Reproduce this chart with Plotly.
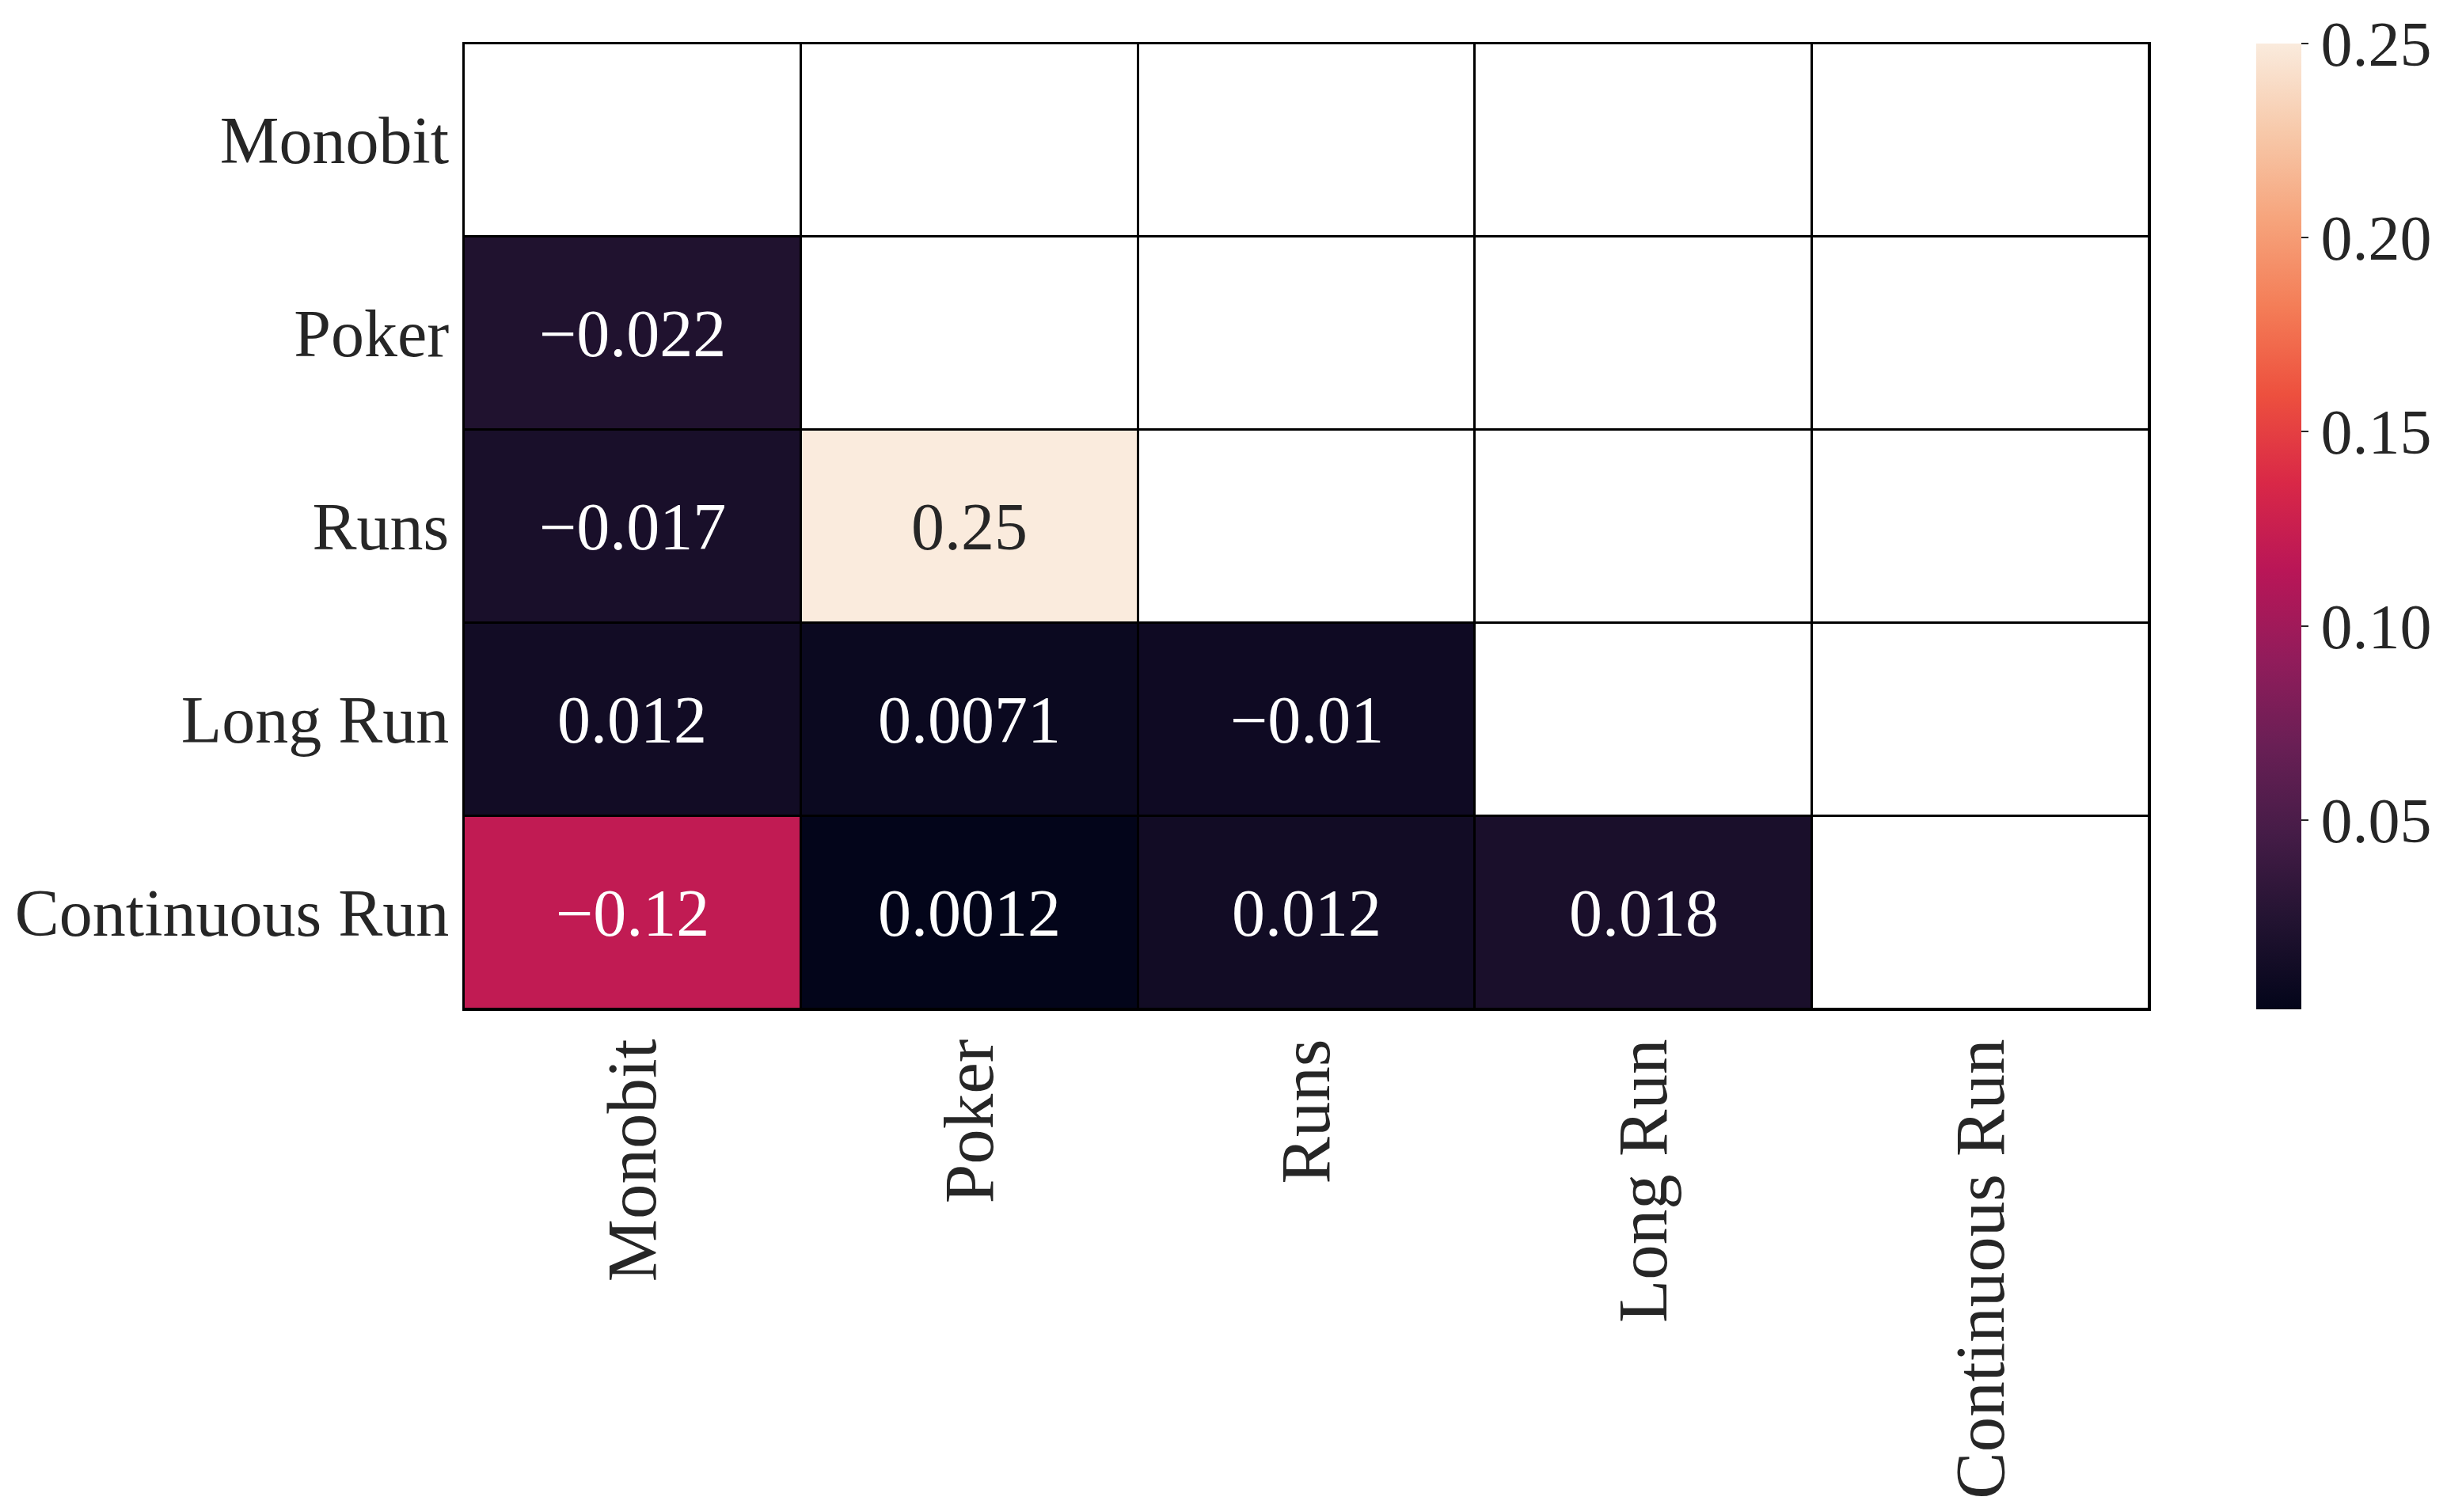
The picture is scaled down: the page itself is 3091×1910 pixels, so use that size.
import plotly.graph_objects as go

# ---- data ----
tests = ["Monobit", "Poker", "Runs", "Long Run", "Continuous Run"]
# lower-triangle correlations (row, col) ; None = masked
row_monobit = [None, None, None, None, None]
row_poker = [-0.022, None, None, None, None]
row_runs = [-0.017, 0.25, None, None, None]
row_longrun = [0.012, 0.0071, -0.01, None, None]
row_contrun = [-0.12, 0.0012, 0.012, 0.018, None]
corr = [row_monobit, row_poker, row_runs, row_longrun, row_contrun]
cbar_ticks = [0.05, 0.10, 0.15, 0.20, 0.25]

rocket = [
    [0.0, "#03051A"], [1/11, "#221331"], [2/11, "#451C47"], [3/11, "#691F55"],
    [4/11, "#921C5B"], [5/11, "#B91657"], [6/11, "#D92847"], [7/11, "#ED503E"],
    [8/11, "#F47D57"], [9/11, "#F6A47C"], [10/11, "#F7C9AA"], [1.0, "#FAEBDD"],
]

n = len(tests)
idx = list(range(n))
zabs = [[abs(v) if v is not None else None for v in r] for r in corr]
vals = [abs(v) for r in corr for v in r if v is not None]
zmin, zmax = min(vals), max(vals)
mask = [[1 if v is None else None for v in r] for r in corr]

FONT = "Liberation Serif, Times New Roman, serif"
TXT = "#262626"

fig = go.Figure()
fig.add_trace(go.Heatmap(
    z=mask, x=idx, y=idx, colorscale=[[0, "white"], [1, "white"]],
    showscale=False, xgap=3, ygap=3, hoverinfo="skip", zmin=0, zmax=1))
fig.add_trace(go.Heatmap(
    z=zabs, x=idx, y=idx, colorscale=rocket, zmin=zmin, zmax=zmax,
    xgap=3, ygap=3,
    colorbar=dict(
        thickness=57, len=1.0, lenmode="fraction", x=1.0634, xanchor="left",
        xpad=0, ypad=0,
        y=0.5, yanchor="middle", outlinewidth=0,
        tickvals=cbar_ticks, ticktext=[f"{t:.2f}" for t in cbar_ticks],
        ticks="outside", ticklen=9, tickwidth=2, tickcolor=TXT,
        tickfont=dict(family=FONT, size=80, color=TXT),
    ),
))

# annotations
for i, r in enumerate(corr):
    for j, v in enumerate(r):
        if v is None:
            continue
        txt = format(v, ".2g").replace("-", "\u2212")
        norm = (abs(v) - zmin) / (zmax - zmin)
        col = TXT if norm > 0.6 else "white"
        fig.add_annotation(x=j, y=i, text=txt, showarrow=False,
                           font=dict(family=FONT, size=84, color=col))

fig.update_layout(
    width=3091, height=1910,
    margin=dict(l=586, r=376, t=55, b=635, autoexpand=False),
    paper_bgcolor="white", plot_bgcolor="black",
    font=dict(family=FONT, color=TXT),
    xaxis=dict(tickmode="array", tickvals=idx, ticktext=tests, tickangle=-90,
               range=[-0.5, n - 0.5], showgrid=False, zeroline=False,
               showline=True, mirror=True, linecolor="black", linewidth=2,
               automargin=False, ticklabelstandoff=0,
               ticks="", tickfont=dict(family=FONT, size=89, color=TXT)),
    yaxis=dict(tickmode="array", tickvals=idx, ticktext=tests,
               range=[n - 0.5, -0.5], showgrid=False, zeroline=False,
               showline=True, mirror=True, linecolor="black", linewidth=2,
               automargin=False,
               ticks="", ticklabelstandoff=0,
               tickfont=dict(family=FONT, size=84, color=TXT)),
)

fig.write_html("out.html", config={"displayModeBar": False},
               post_script="document.body.style.margin='0';document.body.style.overflow='hidden';")
